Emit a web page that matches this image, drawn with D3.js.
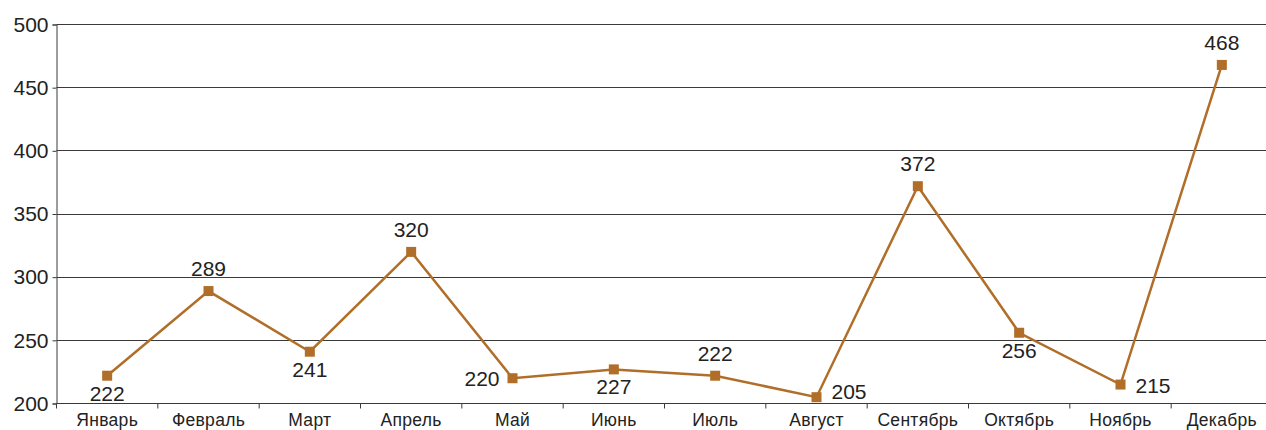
<!DOCTYPE html>
<html>
<head>
<meta charset="utf-8">
<script src="https://cdn.jsdelivr.net/npm/d3@7"></script>
<style>
  html, body { margin: 0; padding: 0; background: #fff; }
  svg { display: block; font-family: "Liberation Sans", Arial, sans-serif; }
</style>
</head>
<body>
<svg id="chart" width="1266" height="430"></svg>
<script>
// months, values and where each value label sits
var months = ["Январь", "Февраль", "Март", "Апрель", "Май", "Июнь",
              "Июль", "Август", "Сентябрь", "Октябрь", "Ноябрь", "Декабрь"];
var values = [222, 289, 241, 320, 220, 227, 222, 205, 372, 256, 215, 468];
var labelSide = ["below", "above", "below", "above", "left", "below",
                 "above", "right", "above", "below", "right", "above"];
var yTicks = [200, 250, 300, 350, 400, 450, 500];

var svg = d3.select("#chart");
var margin = {left: 56.5, top: 24.5};
var plotW = 1216, plotH = 379;
var lineColor = "#b06e28";

var g = svg.append("g")
  .attr("transform", "translate(" + margin.left + "," + margin.top + ")");

var x = d3.scaleBand().domain(months).range([0, plotW]);
var y = d3.scaleLinear().domain([200, 500]).range([plotH, 0]);

// horizontal grid
g.append("g")
  .selectAll("line")
  .data(yTicks)
  .enter()
  .append("line")
  .attr("x1", 0)
  .attr("x2", plotW)
  .attr("y1", function(d){ return Math.round(y(d)); })
  .attr("y2", function(d){ return Math.round(y(d)); })
  .style("stroke", "#3a3a3a")
  .style("stroke-width", 1);

// y axis
var yAxis = g.append("g")
  .call(d3.axisLeft(y).tickValues(yTicks).tickSize(4).tickPadding(4));
yAxis.select(".domain").style("stroke", "#3a3a3a");
yAxis.selectAll(".tick line").style("stroke", "#3a3a3a");
yAxis.selectAll("text")
  .style("font-size", "21px")
  .style("fill", "#222");

// x axis: ticks on band edges
var xAxis = g.append("g").attr("transform", "translate(0," + plotH + ")");
xAxis.selectAll("line.edge")
  .data(d3.range(months.length + 1))
  .enter()
  .append("line")
  .attr("class", "edge")
  .attr("x1", function(i){ return i * x.step(); })
  .attr("x2", function(i){ return i * x.step(); })
  .attr("y1", 0)
  .attr("y2", 5)
  .style("stroke", "#3a3a3a");
xAxis.selectAll("text")
  .data(months)
  .enter()
  .append("text")
  .attr("x", function(d){ return x(d) + x.bandwidth() / 2; })
  .attr("y", 22)
  .attr("text-anchor", "middle")
  .style("font-size", "17.5px")
  .style("letter-spacing", "0.3px")
  .style("fill", "#222")
  .text(function(d){ return d; });

// series line
var pts = months.map(function(m, i){
  return {m: m, v: values[i], side: labelSide[i]};
});
var line = d3.line()
  .x(function(d){ return x(d.m) + x.bandwidth() / 2; })
  .y(function(d){ return y(d.v); });

g.append("path")
  .datum(pts)
  .attr("d", line)
  .style("fill", "none")
  .style("stroke", lineColor)
  .style("stroke-width", 2.5);

g.selectAll("rect.mk")
  .data(pts)
  .enter()
  .append("rect")
  .attr("class", "mk")
  .attr("x", function(d){ return x(d.m) + x.bandwidth() / 2 - 5; })
  .attr("y", function(d){ return y(d.v) - 5; })
  .attr("width", 10)
  .attr("height", 10)
  .style("fill", lineColor);

// value labels
g.selectAll("text.val")
  .data(pts)
  .enter()
  .append("text")
  .attr("class", "val")
  .attr("x", function(d){
    var cx = x(d.m) + x.bandwidth() / 2;
    if (d.side == "left") return cx - 13;
    if (d.side == "right") return cx + 15;
    return cx;
  })
  .attr("y", function(d){
    var cy = y(d.v);
    if (d.side == "above") return cy - 15;
    if (d.side == "below") return cy + 25;
    // side labels: keep clear of the bottom axis
    return Math.min(cy + 8, plotH - 5);
  })
  .attr("text-anchor", function(d){
    if (d.side == "left") return "end";
    if (d.side == "right") return "start";
    return "middle";
  })
  .style("font-size", "21px")
  .style("fill", "#222")
  .text(function(d){ return d.v; });
</script>
</body>
</html>
